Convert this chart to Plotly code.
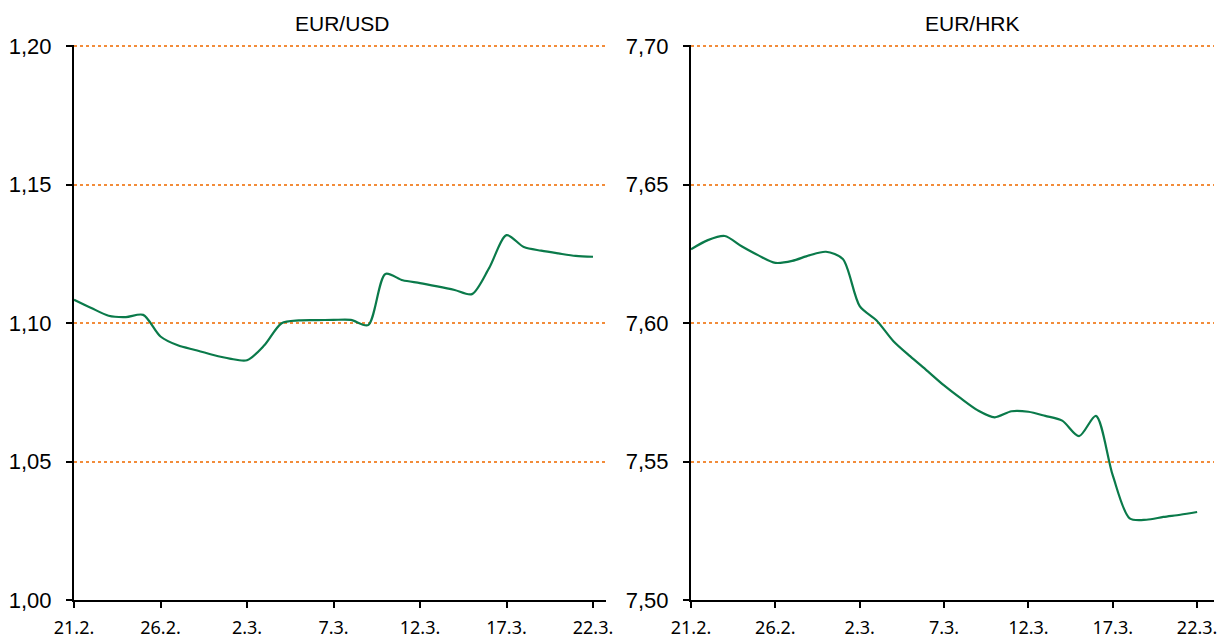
import plotly.graph_objects as go
import pandas as pd

# ---- data ----
dates = pd.date_range("2016-02-21", "2016-03-22", freq="D").strftime("%Y-%m-%d").tolist()

eur_usd = [1.1085, 1.1055, 1.1027, 1.1022, 1.1030, 1.0952, 1.0920, 1.0903,
           1.0886, 1.0872, 1.0866, 1.0920, 1.1000, 1.1010, 1.1011, 1.1012,
           1.1012, 1.0993, 1.1178, 1.1155, 1.1145, 1.1133, 1.1120, 1.1105,
           1.1200, 1.1318, 1.1275, 1.1262, 1.1252, 1.1243, 1.1240]

eur_hrk = [7.6267, 7.6300, 7.6315, 7.6278, 7.6245, 7.6218, 7.6225, 7.6245,
           7.6258, 7.6232, 7.6062, 7.6010, 7.5935, 7.5880, 7.5828, 7.5775,
           7.5728, 7.5685, 7.5660, 7.5682, 7.5680, 7.5665, 7.5648, 7.5592,
           7.5665, 7.5450, 7.5295, 7.5290, 7.5300, 7.5308, 7.5318]

tick_dates = ["2016-02-21", "2016-02-26", "2016-03-02", "2016-03-07",
              "2016-03-12", "2016-03-17", "2016-03-22"]
tick_labels = ["21.2.", "26.2.", "2.3.", "7.3.", "12.3.", "17.3.", "22.3."]

usd_ticks = [1.00, 1.05, 1.10, 1.15, 1.20]
hrk_ticks = [7.50, 7.55, 7.60, 7.65, 7.70]

titles = ["EUR/USD", "EUR/HRK"]

# ---- styles ----
LINE = "#0A7A4A"
GRID = "#F28C3A"
TICKFONT_Y = dict(family="Liberation Sans, Arial, sans-serif", size=22, color="#000")
TICKFONT_X = dict(family="Noto Sans, Open Sans, sans-serif", size=18, color="#000")
TITLEFONT = dict(family="Liberation Sans, Arial, sans-serif", size=21, color="#000")

# figure is drawn inside the page's default 8px body margin
W, H = 1222, 631
D1 = [66 / W, 598 / W]
D2 = [683 / W, 1206 / W]
TITLE_X = [334 / W, 964 / W]

fig = go.Figure()
fig.add_trace(go.Scatter(x=dates, y=eur_usd, mode="lines", xaxis="x", yaxis="y",
                         line=dict(color=LINE, width=2.2, shape="spline", smoothing=0.8),
                         showlegend=False, hoverinfo="x+y"))
fig.add_trace(go.Scatter(x=dates, y=eur_hrk, mode="lines", xaxis="x2", yaxis="y2",
                         line=dict(color=LINE, width=2.2, shape="spline", smoothing=0.8),
                         showlegend=False, hoverinfo="x+y"))

def xax(domain, rng, anchor):
    return dict(domain=domain, range=rng, anchor=anchor, type="date", automargin=False,
                tickmode="array", tickvals=tick_dates, ticktext=tick_labels,
                showgrid=False, zeroline=False, showline=True, linecolor="#000",
                linewidth=2, ticks="outside", ticklen=6, tickwidth=2, tickcolor="#000",
                ticklabelstandoff=4, tickfont=TICKFONT_X)

def yax(domain, rng, tickvals, anchor):
    return dict(domain=domain, range=rng, anchor=anchor, tickmode="array", automargin=False,
                tickvals=tickvals, tickformat=".2f",
                showgrid=True, gridcolor=GRID, griddash="dot", gridwidth=2,
                zeroline=False, showline=True, linecolor="#000", linewidth=2,
                ticks="outside", ticklen=6, tickwidth=2, tickcolor="#000",
                ticklabelstandoff=10, tickfont=TICKFONT_Y)

fig.update_layout(
    width=W, height=H,
    paper_bgcolor="white", plot_bgcolor="white",
    separators=", ",
    margin=dict(l=0, r=0, t=37, b=39),
    xaxis=xax(D1, ["2016-02-21", "2016-03-22 18:00"], "y"),
    yaxis=yax([0, 1], [1.00, 1.2005], usd_ticks, "x"),
    xaxis2=xax(D2, ["2016-02-21", "2016-03-23"], "y2"),
    yaxis2=yax([0, 1], [7.50, 7.7005], hrk_ticks, "x2"),
    annotations=[
        dict(text=titles[0], x=TITLE_X[0], y=1, xref="paper", yref="paper",
             xanchor="center", yanchor="middle", yshift=22, showarrow=False, font=TITLEFONT),
        dict(text=titles[1], x=TITLE_X[1], y=1, xref="paper", yref="paper",
             xanchor="center", yanchor="middle", yshift=22, showarrow=False, font=TITLEFONT),
    ],
)

fig.write_html("out.html")
